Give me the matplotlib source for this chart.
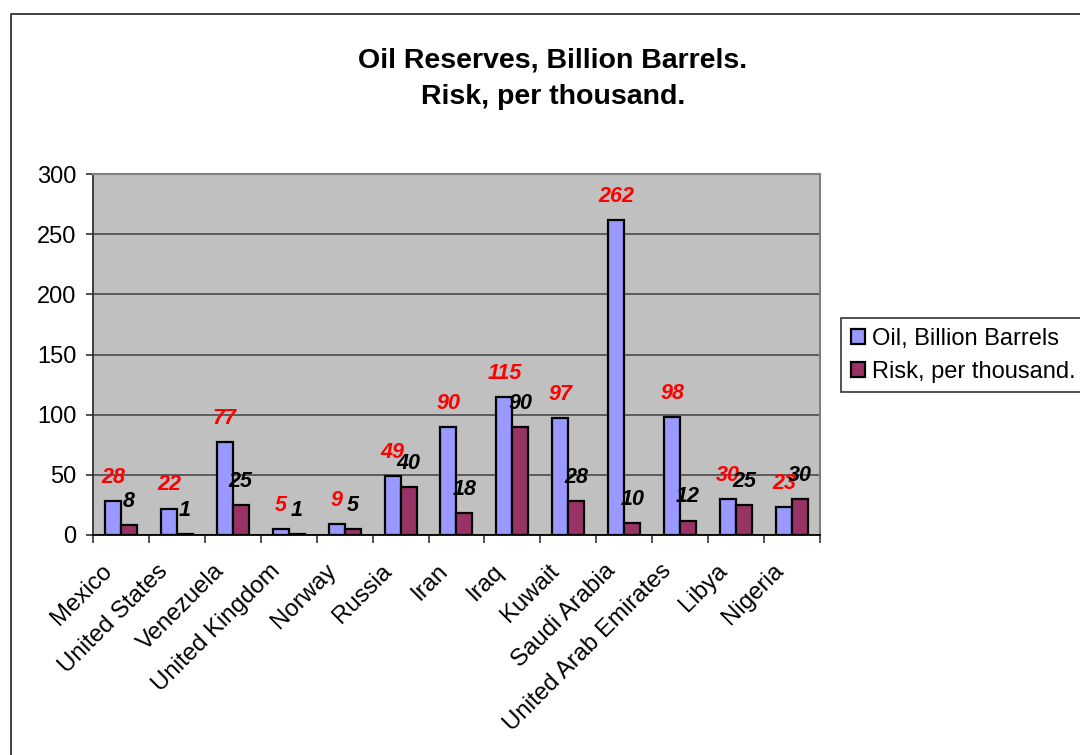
import numpy as np
import matplotlib.pyplot as plt
import matplotlib.transforms as mtransforms
from matplotlib.patches import Patch
from matplotlib.lines import Line2D

plt.rcParams["font.family"] = ["Liberation Sans", "DejaVu Sans"]

countries = ["Mexico", "United States", "Venezuela", "United Kingdom", "Norway",
             "Russia", "Iran", "Iraq", "Kuwait", "Saudi Arabia",
             "United Arab Emirates", "Libya", "Nigeria"]
oil_reserves = [28, 22, 77, 5, 9, 49, 90, 115, 97, 262, 98, 30, 23]
risk_per_thousand = [8, 1, 25, 1, 5, 40, 18, 90, 28, 10, 12, 25, 30]

OIL_COLOR = "#9999FF"
RISK_COLOR = "#993366"
PLOT_BG = "#C0C0C0"

fig = plt.figure(figsize=(10.8, 7.55), dpi=100)
ax = fig.add_axes([0.0861, 0.2914, 0.6731, 0.4781])

x = np.arange(len(countries))
w = 0.286
oil_bars = ax.bar(x - w / 2, oil_reserves, w, color=OIL_COLOR,
                  edgecolor="black", linewidth=1.6, zorder=3)
risk_bars = ax.bar(x + w / 2, risk_per_thousand, w, color=RISK_COLOR,
                   edgecolor="black", linewidth=1.6, zorder=3)

# value labels sit a fixed distance above each bar
for bars, vals, col in [(oil_bars, oil_reserves, "red"),
                        (risk_bars, risk_per_thousand, "black")]:
    for b, v in zip(bars, vals):
        ax.annotate(str(v), (b.get_x() + b.get_width() / 2, v),
                    xytext=(0, 17), textcoords="offset points",
                    ha="center", va="center", fontsize=15.5,
                    fontweight="bold", fontstyle="italic", color=col,
                    zorder=5)

ax.set_facecolor(PLOT_BG)
ax.set_xlim(-0.5, len(countries) - 0.5)
ax.set_ylim(0, 300)
ax.set_yticks(np.arange(0, 301, 50))
ax.yaxis.grid(True, color="#555555", linewidth=1.3, zorder=1)
ax.set_axisbelow(True)

for side in ["top", "right"]:
    ax.spines[side].set_color("#808080")
    ax.spines[side].set_linewidth(1.5)
ax.spines["left"].set_color("#333333")
ax.spines["bottom"].set_color("black")
ax.spines["left"].set_linewidth(1.3)
ax.spines["bottom"].set_linewidth(1.3)

ax.tick_params(axis="y", direction="out", length=5, width=1.2,
               labelsize=17, pad=7, color="#333333")

# category boundaries carry the tick marks, names sit at centres
ax.set_xticks(x)
ax.set_xticklabels(countries, rotation=45, ha="right",
                   rotation_mode="anchor", fontsize=17.3)
ax.tick_params(axis="x", which="major", length=0, pad=18)
shift = mtransforms.ScaledTranslation(-0.20, 0.0, fig.dpi_scale_trans)
for lbl in ax.get_xticklabels():
    lbl.set_transform(lbl.get_transform() + shift)
ax.set_xticks(np.arange(-0.5, len(countries) + 0.5, 1), minor=True)
ax.tick_params(axis="x", which="minor", direction="out", length=6,
               width=1.2, color="#333333")

fig.text(0.512, 0.896, "Oil Reserves, Billion Barrels.\nRisk, per thousand.",
         ha="center", va="center", fontsize=20.5, fontweight="bold",
         linespacing=1.55)

handles = [Patch(facecolor=OIL_COLOR, edgecolor="black", linewidth=1.6),
           Patch(facecolor=RISK_COLOR, edgecolor="black", linewidth=1.6)]
leg = fig.legend(handles, ["Oil, Billion Barrels", "Risk, per thousand."],
                 loc="upper left", bbox_to_anchor=(841 / 1080, 1 - 318 / 755),
                 borderaxespad=0, fontsize=17, frameon=True, fancybox=False,
                 handlelength=0.6, handleheight=0.6, handletextpad=0.3,
                 labelspacing=0.45, borderpad=0.42)
leg.get_frame().set_edgecolor("black")
leg.get_frame().set_linewidth(1.2)

# chart area border (left and top edges)
fig.add_artist(Line2D([11 / 1080, 11 / 1080, 1.0], [0.0, 1 - 14 / 755, 1 - 14 / 755],
                      transform=fig.transFigure, color="#333333", linewidth=1.3))

fig.savefig("out.png", dpi=100)
